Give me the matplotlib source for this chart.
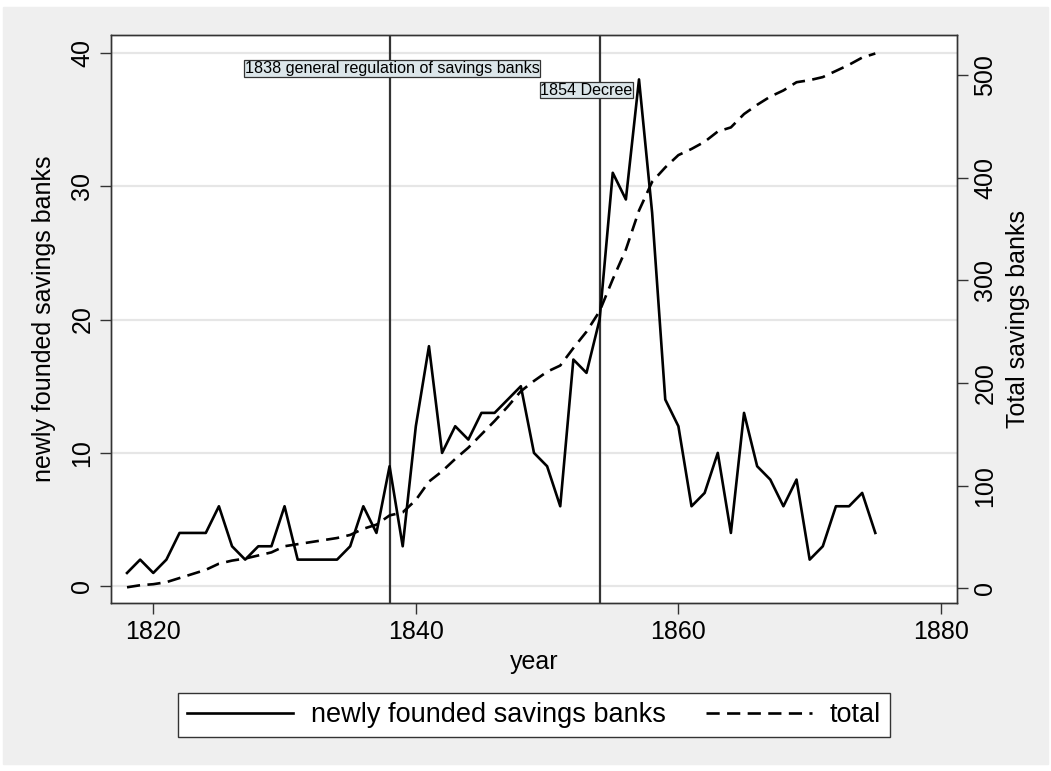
import numpy as np
import matplotlib
matplotlib.use("Agg")
import matplotlib.pyplot as plt
from matplotlib.patches import Rectangle

plt.rcParams['font.family'] = ['Liberation Sans', 'DejaVu Sans']

# data
years = list(range(1818, 1876))
newly_founded = [1, 2, 1, 2, 4, 4, 4, 6, 3, 2, 3, 3, 6, 2, 2, 2, 2, 3, 6, 4,
                 9, 3, 12, 18, 10, 12, 11, 13, 13, 14, 15, 10, 9, 6, 17, 16,
                 20, 31, 29, 38, 28, 14, 12, 6, 7, 10, 4, 13, 9, 8, 6, 8, 2,
                 3, 6, 6, 7, 4]
total = [1, 3, 4, 6, 10, 14, 18, 24, 27, 29, 32, 35, 41, 43, 45, 47, 49, 52,
         58, 62, 71, 74, 86, 104, 114, 126, 137, 150, 163, 177, 192, 202, 211,
         217, 234, 250, 270, 301, 330, 368, 396, 410, 422, 428, 435, 445, 449,
         462, 471, 479, 485, 493, 495, 498, 504, 510, 517, 521]

events = [1838, 1854]
event_labels = ['1838 general regulation of savings banks', '1854 Decree']
event_label_pos = [(1838.2, 38.8), (1853.0, 37.2)]

left_ticks = [0, 10, 20, 30, 40]
right_ticks = [0, 100, 200, 300, 400, 500]
x_ticks = [1820, 1840, 1860, 1880]

W, H = 1051, 771
fig = plt.figure(figsize=(W / 100, H / 100), dpi=100, facecolor='white')
fig.patches.append(Rectangle((3 / W, 7 / H), 1045 / W, 757 / H,
                             transform=fig.transFigure, color='#efefef', zorder=-10))

ax = fig.add_axes([111 / W, (H - 603.3) / H, 845.7 / W, 568.3 / H])
ax.set_facecolor('white')
ax2 = ax.twinx()

dark = '#333333'
for a in (ax, ax2):
    for s in a.spines.values():
        s.set_color(dark)
        s.set_linewidth(1.0)

ax.set_axisbelow(True)
ax.yaxis.grid(True, color='#e6e6e6', linewidth=1.6)

for ev in events:
    ax.axvline(ev, color=dark, linewidth=1.6, zorder=1.5)

for lab, (xx, yy) in zip(event_labels, event_label_pos):
    ax.text(xx, yy, lab, ha='center', va='center', fontsize=11.6, zorder=1.6,
            bbox=dict(boxstyle='square,pad=0.05', fc='#dce6ea', ec=dark, lw=0.9))

l1, = ax.plot(years, newly_founded, color='black', linewidth=1.9, zorder=2,
              label='newly founded savings banks')
l2, = ax2.plot(years, total, color='black', linewidth=1.9, dashes=(5, 2.8),
               label='total')

ax.set_xlim(1816.78, 1881.2)
ax.set_ylim(-1.275, 41.33)
ax2.set_ylim(-14.6, 539)

ax.set_xticks(x_ticks)
ax.set_yticks(left_ticks)
ax2.set_yticks(right_ticks)

fs = 18
for a in (ax, ax2):
    a.tick_params(axis='both', direction='out', length=8, width=1.0,
                  color=dark, labelsize=fs, pad=4)
ax.tick_params(axis='y', labelrotation=90)
ax2.tick_params(axis='y', labelrotation=90)
for t in ax.get_yticklabels() + ax2.get_yticklabels():
    t.set_va('center')

ax.set_xlabel('year', fontsize=fs, labelpad=4)
ax.set_ylabel('newly founded savings banks', fontsize=fs, labelpad=10)
ax2.set_ylabel('Total savings banks', fontsize=fs, labelpad=6)

leg = fig.legend(handles=[l1, l2], loc='center', ncol=2,
                 bbox_to_anchor=(534 / W, (H - 715) / H), fontsize=19.5,
                 frameon=True, fancybox=False, edgecolor=dark, facecolor='white',
                 framealpha=1, handlelength=3.9, handletextpad=0.65,
                 columnspacing=1.5, borderpad=0.35)
leg.get_frame().set_linewidth(1.0)

fig.savefig('out.png', dpi=100, facecolor='white')
